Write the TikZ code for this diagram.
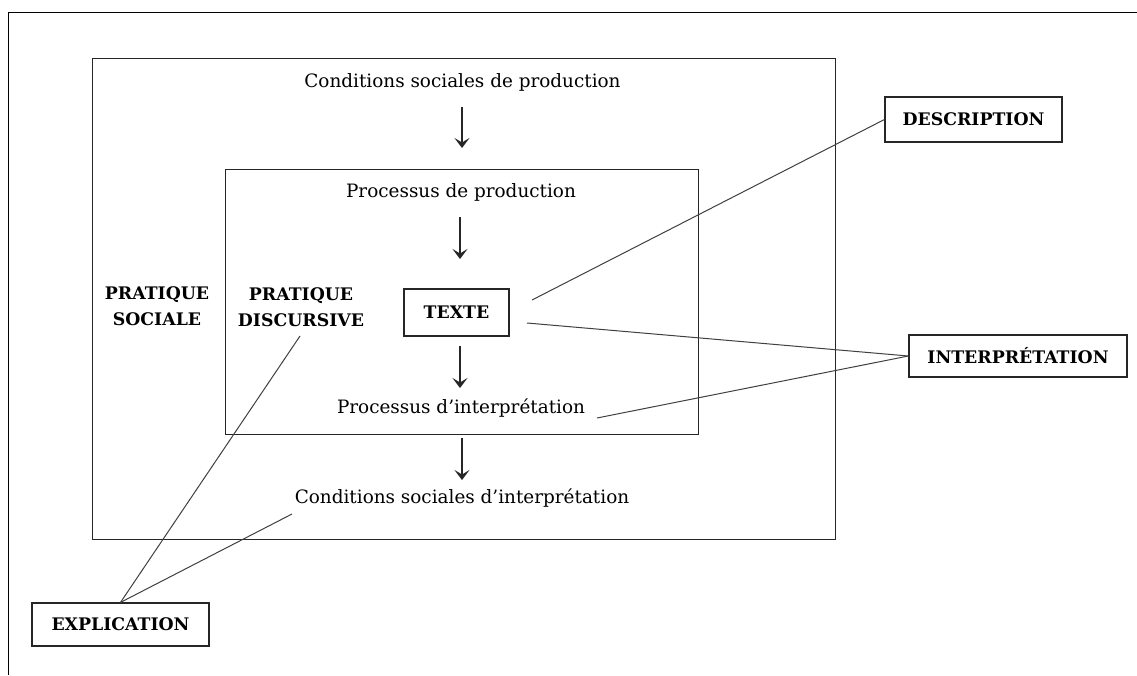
\documentclass[tikz,border=0pt]{standalone}
\usepackage{fontspec}
\setmainfont{DejaVu Serif}
\usetikzlibrary{arrows.meta}
\begin{document}
\begin{tikzpicture}[x=1pt,y=-1pt,
  frame/.style={draw=black!85,line width=1.3pt},
  plain/.style={font=\fontsize{18.4}{24}\selectfont,anchor=base,inner sep=0pt},
  tag/.style={font=\fontsize{17.3}{25.5}\selectfont\bfseries,anchor=base,inner sep=0pt,align=center},
  tagbox/.style={draw=black!85,line width=1.2pt,inner xsep=10pt,font=\fontsize{17.3}{20}\selectfont\bfseries},
  flow/.style={line width=1.6pt,draw=black!85,-{Stealth[length=10pt,width=15pt,inset=4.5pt]}},
  link/.style={draw=black!75,line width=1pt}]
\useasboundingbox (0,0) rectangle (1137,675);
\fill[white] (0,0) rectangle (1137,675);
% page rule along the top and left
\draw[line width=1pt] (8,675) -- (8,12) -- (1137,12);
% social practice and discursive practice frames
\node[frame,minimum width=743pt,minimum height=481pt,anchor=north west,inner sep=0pt] (sociale) at (92,58) {};
\node[frame,minimum width=473pt,minimum height=265pt,anchor=north west,inner sep=0pt] (discursive) at (225,169) {};
% texts inside the frames
\node[plain] (csp) at (462.5,87) {Conditions sociales de production};
\node[plain] (pp) at (461,197) {Processus de production};
\node[plain] (pi) at (461,413) {Processus d’interprétation};
\node[plain] (csi) at (462,503) {Conditions sociales d’interprétation};
\node[tag] (ps) at (157,325) {PRATIQUE\\SOCIALE};
\node[tag] (pd) at (301,326) {PRATIQUE\\DISCURSIVE};
\node[tagbox,minimum width=105pt,minimum height=47pt] (texte) at (456.5,312.5) {TEXTE};
% analysis levels
\node[tagbox,minimum width=177pt,minimum height=45pt] (descr) at (973.5,119.5) {DESCRIPTION};
\node[tagbox,minimum width=218pt,minimum height=42pt] (interp) at (1018,356) {INTERPRÉTATION};
\node[tagbox,minimum width=177pt,minimum height=43pt] (expl) at (120.5,624.5) {EXPLICATION};
% vertical flow
\coordinate (a1s) at (462,107); \coordinate (a1e) at (462,148);
\coordinate (a2s) at (460,217); \coordinate (a2e) at (460,259);
\coordinate (a3s) at (460,346); \coordinate (a3e) at (460,388);
\coordinate (a4s) at (462,438); \coordinate (a4e) at (462,480);
\draw[flow] (a1s) -- (a1e);
\draw[flow] (a2s) -- (a2e);
\draw[flow] (a3s) -- (a3e);
\draw[flow] (a4s) -- (a4e);
% links to the analysis levels
\coordinate (tx1) at (532,300);
\coordinate (tx2) at (527,323);
\coordinate (pi1) at (597,418);
\coordinate (pd1) at (300,336);
\coordinate (csi1) at (292,514);
\draw[link] (tx1) -- (descr.west);
\draw[link] (tx2) -- (interp.west);
\draw[link] (pi1) -- (interp.west);
\draw[link] (pd1) -- (expl.north);
\draw[link] (csi1) -- (expl.north);
\end{tikzpicture}
\end{document}
